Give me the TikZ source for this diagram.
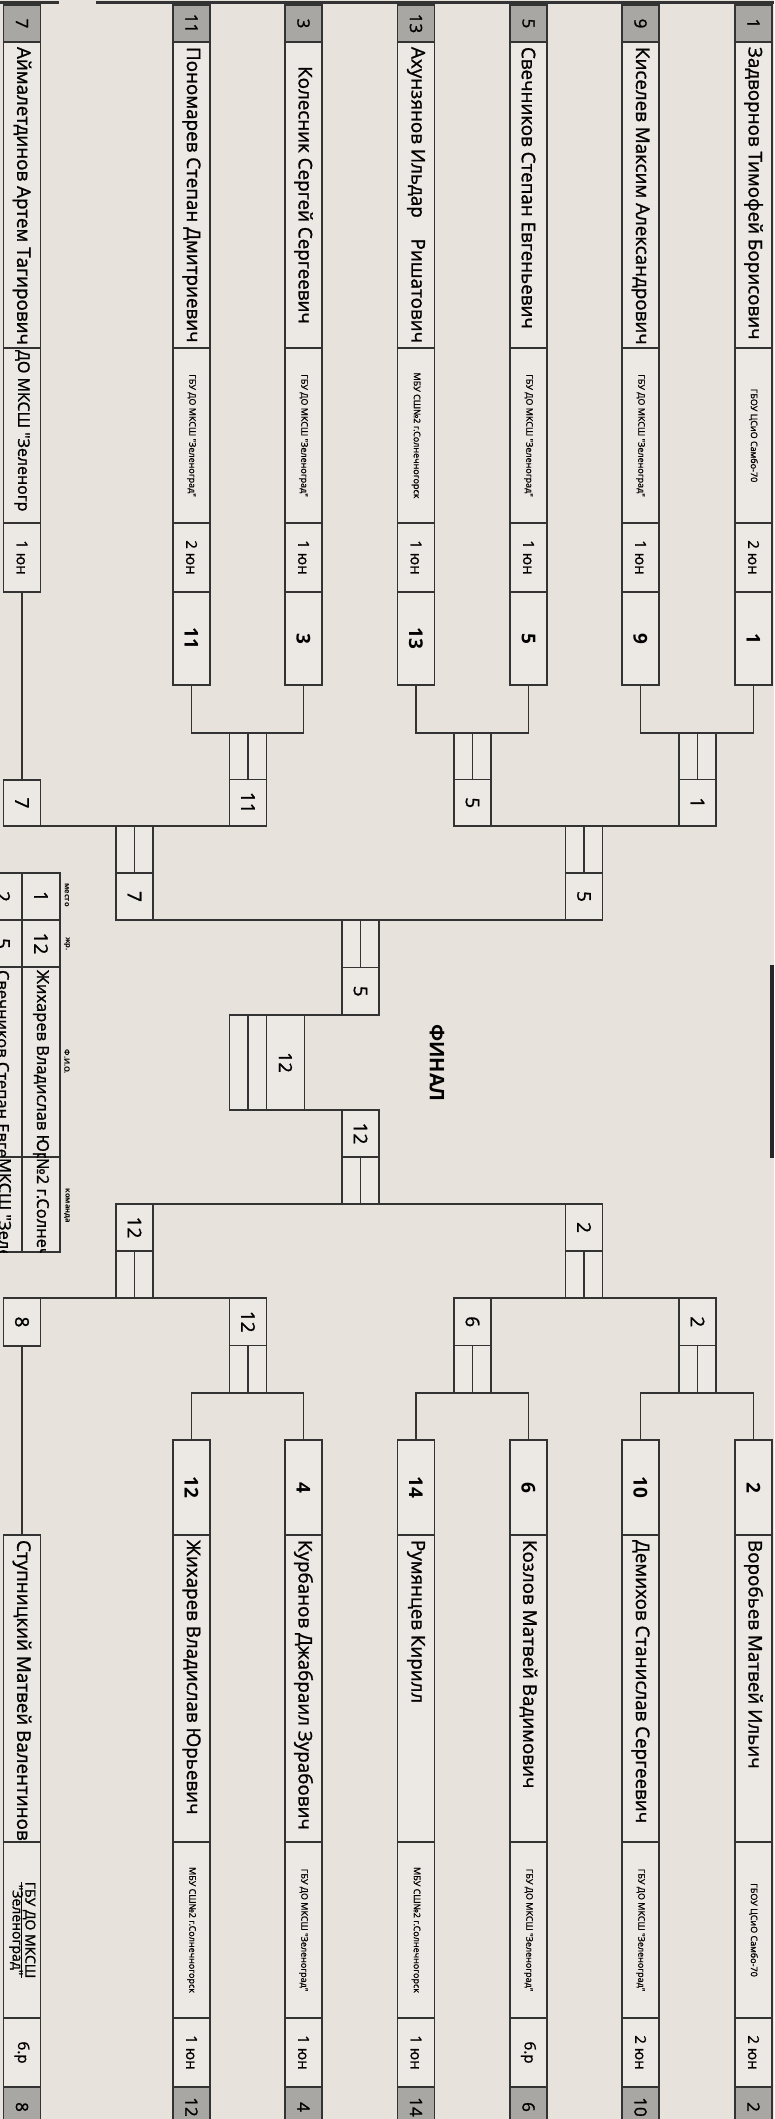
\documentclass[tikz,border=0pt]{standalone}
\usepackage{fontspec}
\setmainfont{Open Sans}
\newfontfamily\nmfont{Open Sans}[FakeBold=1.2]
\usepackage{graphicx}
\usetikzlibrary{calc}
\definecolor{paper}{HTML}{E8E2DC}
\definecolor{cellc}{HTML}{ECE8E3}
\definecolor{greyc}{HTML}{A9A7A4}
\definecolor{ink}{HTML}{333333}
\newcommand\fs[1]{\fontsize{#1}{#1}\selectfont}
\newcommand\R[1]{\rotatebox{-90}{#1}}
\newcommand\RL[2]{\rotatebox{-90}{\makebox[#1][l]{#2}}}
\newcommand\NameL[1]{\nmfont\fs{18.8}\RL{296pt}{#1}}
\newcommand\NameB[1]{\nmfont\fs{18.8}\RL{297pt}{#1}}
\newcommand\Club[1]{\nmfont\fs{9}\R{#1}}
\tikzset{
 box/.style={draw=ink, line width=1.4pt, fill=cellc, inner sep=0pt, outer sep=0pt, minimum width=37pt},
 grey/.style={box, fill=greyc},
 wire/.style={draw=ink, line width=1.4pt},
 txt/.style={inner sep=0pt, outer sep=0pt},
}
% top strip: id, xc, seed, name, club, yun
\newcommand\TopStrip[6]{%
 \node[grey, minimum height=37pt, anchor=north] (g#1) at (#2,5) {\nmfont\fs{17}\R{#3}};
 \node[box, minimum height=306pt, anchor=north] (m#1) at (#2,42) {#4};
 \node[box, minimum height=175pt, anchor=north] (c#1) at (#2,348) {#5};
 \node[box, minimum height=69pt, anchor=north] (y#1) at (#2,523) {\nmfont\fs{15}\R{#6}};}
\newcommand\BotStrip[6]{%
 \node[box, minimum height=307pt, anchor=north] (m#1) at (#2,1535) {#4};
 \node[box, minimum height=176pt, anchor=north] (c#1) at (#2,1842) {#5};
 \node[box, minimum height=69pt, anchor=north] (y#1) at (#2,2018) {\nmfont\fs{15}\R{#6}};
 \node[grey, minimum height=40pt, anchor=north] (g#1) at (#2,2087) {\nmfont\fs{17}\R{#3}};}
% bracket box, double cell on top: id, xc, ytop, height, number
\newcommand\BoxDN[5]{%
 \node[box, minimum height=#4pt, anchor=north] (#1) at (#2,#3) {};
 \draw[wire] (#1.west) -- (#1.east);
 \draw[wire] (#1.north) -- (#1.center);
 \node[txt] (#1n) at ($(#1.center)!0.5!(#1.south)$) {\nmfont\fs{19}\R{#5}};}
% bracket box, number on top
\newcommand\BoxND[5]{%
 \node[box, minimum height=#4pt, anchor=north] (#1) at (#2,#3) {};
 \draw[wire] (#1.west) -- (#1.east);
 \draw[wire] (#1.center) -- (#1.south);
 \node[txt] (#1n) at ($(#1.center)!0.5!(#1.north)$) {\nmfont\fs{19}\R{#5}};}
\begin{document}
\begin{tikzpicture}[x=1pt,y=-1pt]
\useasboundingbox (0,0) rectangle (774,2119);
\clip (0,0) rectangle (774,2119);
\fill[paper] (0,0) rectangle (774,2119);
% top rule
\draw[line width=3pt, draw=black!80] (0,3) -- (59,3);
\draw[line width=3pt, draw=black!80] (96,3) -- (774,3);
% black bar right
\fill[black!85] (770,965) rectangle (774,1158);

% ---------- top strips ----------
\TopStrip{1}{753.5}{1}{\NameL{Задворнов Тимофей Борисович}}{\Club{ГБОУ ЦСиО Самбо-70}}{2 юн}
\TopStrip{9}{640.5}{9}{\NameL{Киселев Максим Александрович}}{\Club{ГБУ ДО МКСШ "Зеленоград"}}{1 юн}
\TopStrip{5}{528.5}{5}{\NameL{Свечников Степан Евгеньевич}}{\Club{ГБУ ДО МКСШ "Зеленоград"}}{1 юн}
\TopStrip{13}{416}{13}{\NameL{Ахунзянов Ильдар\hfill Ришатович}}{\Club{МБУ СШ№2 г.Солнечногорск}}{1 юн}
\TopStrip{3}{303.5}{3}{\nmfont\fs{18.8}\R{Колесник Сергей Сергеевич}}{\Club{ГБУ ДО МКСШ "Зеленоград"}}{1 юн}
\TopStrip{11}{191.5}{11}{\NameL{Пономарев Степан Дмитриевич}}{\Club{ГБУ ДО МКСШ "Зеленоград"}}{2 юн}
\TopStrip{7}{22}{7}{\NameL{Аймалетдинов Артем Тагирович}}{\nmfont\fs{16}\RL{171pt}{ДО МКСШ "Зеленогр}}{1 юн}
% number cells top
\foreach \id/\xc in {1/753.5,9/640.5,5/528.5,13/416,3/303.5,11/191.5}{
 \node[box, minimum height=93pt, anchor=north] (n\id) at (\xc,592) {\fs{19}\bfseries\R{\id}};
}

% ---------- bottom strips ----------
\BotStrip{2}{753.5}{2}{\NameB{Воробьев Матвей Ильич}}{\Club{ГБОУ ЦСиО Самбо-70}}{2 юн}
\BotStrip{10}{640.5}{10}{\NameB{Демихов Станислав Сергеевич}}{\Club{ГБУ ДО МКСШ "Зеленоград"}}{2 юн}
\BotStrip{6}{528.5}{6}{\NameB{Козлов Матвей Вадимович}}{\Club{ГБУ ДО МКСШ "Зеленоград"}}{б.р}
\BotStrip{14}{416}{14}{\NameB{Румянцев Кирилл}}{\Club{МБУ СШ№2 г.Солнечногорск}}{1 юн}
\BotStrip{4}{303.5}{4}{\NameB{Курбанов Джабраил Зурабович}}{\Club{ГБУ ДО МКСШ "Зеленоград"}}{1 юн}
\BotStrip{12}{191.5}{12}{\NameB{Жихарев Владислав Юрьевич}}{\Club{МБУ СШ№2 г.Солнечногорск}}{1 юн}
\BotStrip{8}{22}{8}{\NameB{Ступницкий Матвей Валентинов}}{\nmfont\fs{14}\R{\begin{tabular}{@{}c@{}}\underline{ГБУ ДО МКСШ}\\[-2pt]"Зеленоград"\end{tabular}}}{б.р}
\foreach \id/\xc in {2/753.5,10/640.5,6/528.5,14/416,4/303.5,12/191.5}{
 \node[box, minimum height=95pt, anchor=north] (n\id) at (\xc,1440) {\fs{19}\bfseries\R{\id}};
}

% ---------- bracket boxes top ----------
\BoxDN{b19}{697.5}{733}{93}{1}
\BoxDN{b513}{472.5}{733}{93}{5}
\BoxDN{b311}{248}{733}{93}{11}
\node[box, minimum height=46pt, anchor=north] (b7) at (22,780) {\nmfont\fs{19}\R{7}};
\BoxDN{q7}{134.5}{826}{94}{7}
\BoxDN{q5}{584}{826}{94}{5}
\BoxDN{st}{360.5}{920}{95}{5}
% final
\node[box, minimum width=75pt, minimum height=95pt] (fin) at (267,1062.5) {};
\draw[wire] ($(fin.north west)+(18.5,0)$) -- ($(fin.south west)+(18.5,0)$);
\draw[wire] ($(fin.north west)+(37,0)$) -- ($(fin.south west)+(37,0)$);
\node[txt] (finn) at (285.5,1062.5) {\nmfont\fs{18}\R{12}};
\node[txt] (finlabel) at (437,1063) {\fs{20}\bfseries\R{ФИНАЛ}};
% bottom
\BoxND{sb}{360.5}{1110}{94}{12}
\BoxND{qbl}{134.5}{1204}{94}{12}
\BoxND{qbr}{584}{1204}{94}{2}
\node[box, minimum height=48pt, anchor=north] (b8) at (22,1298) {\nmfont\fs{19}\R{8}};
\BoxND{b412}{248}{1298}{95}{12}
\BoxND{b146}{472.5}{1298}{95}{6}
\BoxND{b210}{697.5}{1298}{95}{2}

% ---------- connectors ----------
\draw[wire] (n1.south) |- (b19.north) -| (n9.south);
\draw[wire] (n5.south) |- (b513.north) -| (n13.south);
\draw[wire] (n3.south) |- (b311.north) -| (n11.south);
\draw[wire] (y7.south) -- (b7.north);
\draw[wire] (b7.south east) -- (b311.south west);
\draw[wire] (b513.south east) -- (b19.south west);
\draw[wire] (q7.south east) -- (q5.south west);
\draw[wire] (fin.north east) -- (st.south west);
\draw[wire] (fin.south east) -- (sb.north west);
\draw[wire] (qbl.north east) -- (qbr.north west);
\draw[wire] (b8.north east) -- (b412.north west);
\draw[wire] (b146.north east) -- (b210.north west);
\draw[wire] (n2.north) |- (b210.south) -| (n10.north);
\draw[wire] (n6.north) |- (b146.south) -| (n14.north);
\draw[wire] (n4.north) |- (b412.south) -| (n12.north);
\draw[wire] (b8.south) -- (m8.north);

% ---------- results table ----------
\node[box, minimum width=38pt, minimum height=47pt, anchor=north] (t11) at (41,873) {\nmfont\fs{19}\R{1}};
\node[box, minimum width=38pt, minimum height=47pt, anchor=north] (t12) at (41,920) {\nmfont\fs{19}\R{12}};
\node[box, minimum width=38pt, minimum height=190pt, anchor=north] (t13) at (41,967) {};
\node[box, minimum width=38pt, minimum height=95pt, anchor=north] (t14) at (41,1157) {};
\node[box, minimum width=38pt, minimum height=47pt, anchor=north] (t21) at (3,873) {\nmfont\fs{19}\R{2}};
\node[box, minimum width=38pt, minimum height=47pt, anchor=north] (t22) at (3,920) {\nmfont\fs{19}\R{5}};
\node[box, minimum width=38pt, minimum height=190pt, anchor=north] (t23) at (3,967) {};
\node[box, minimum width=38pt, minimum height=95pt, anchor=north] (t24) at (3,1157) {};
\begin{scope}
\clip (t13.north west) rectangle (t13.south east);
\node[txt, anchor=north] (t13t) at (41,970) {\nmfont\fs{16.5}\R{Жихарев Владислав Юрьевич}};
\end{scope}
\begin{scope}
\clip (t14.north west) rectangle (t14.south east);
\node[txt, anchor=north] (t14t) at (41,1158) {\nmfont\fs{16.5}\R{№2 г.Солнечногорск}};
\end{scope}
\begin{scope}
\clip (t23.north west) rectangle (t23.south east);
\node[txt, anchor=north] (t23t) at (3,970) {\nmfont\fs{16.5}\R{Свечников Степан Евгеньевич}};
\end{scope}
\begin{scope}
\clip (t24.north west) rectangle (t24.south east);
\node[txt, anchor=north] (t24t) at (3,1158) {\nmfont\fs{16.5}\R{МКСШ "Зеленоград"}};
\end{scope}
\node[txt] (h1) at (67,895) {\fs{7.5}\bfseries\R{место}};
\node[txt] (h2) at (67,944) {\fs{7.5}\bfseries\R{жр.}};
\node[txt] (h3) at (67,1062) {\fs{7.5}\bfseries\R{Ф.И.О.}};
\node[txt] (h4) at (67,1206) {\fs{7.5}\bfseries\R{команда}};
\end{tikzpicture}
\end{document}
